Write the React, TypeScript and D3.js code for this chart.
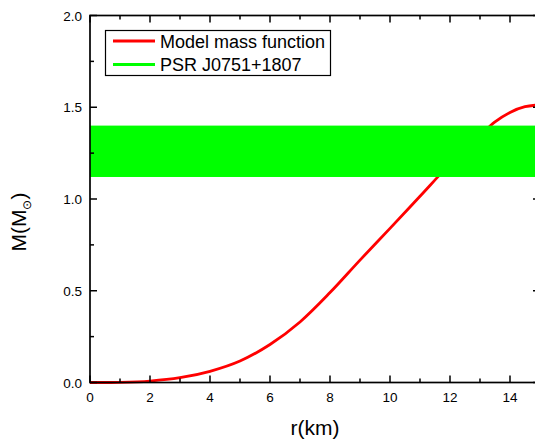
import React from "react";
import * as d3 from "d3";

const radiusKm = [0, 1, 2, 3, 4, 5, 6, 7, 8, 9, 10, 11, 12, 13, 13.5, 14, 14.5, 15];
const massSolar = [0, 0.001, 0.008, 0.026, 0.061, 0.117, 0.207, 0.33, 0.49, 0.667, 0.84, 1.015, 1.19, 1.345, 1.42, 1.472, 1.503, 1.513];
const pulsarBand = [1.12, 1.4];
const xMajorTicks = [0, 2, 4, 6, 8, 10, 12, 14];
const xMinorTicks = [1, 3, 5, 7, 9, 11, 13, 15];
const yMajorTicks = [0, 0.5, 1.0, 1.5, 2.0];
const yMinorTicks = [0.25, 0.75, 1.25, 1.75];
const legendLabels = ["Model mass function", "PSR J0751+1807"];

const W = 535;
const H = 441;
const FONT = "Arial, 'Liberation Sans', sans-serif";

export default function App() {
  const x = d3.scaleLinear().domain([0, 15]).range([90, 540]);
  const y = d3.scaleLinear().domain([0, 2]).range([382.5, 15.5]);
  const line = d3
    .line<number>()
    .x((_, i) => x(radiusKm[i]))
    .y((d) => y(d))
    .curve(d3.curveCatmullRom.alpha(0.5));
  const major = 7;
  const minor = 4;
  const axisColor = "#000";
  return (
    <svg
      width={W}
      height={H}
      style={{ position: "absolute", left: 0, top: 0, background: "#fff" }}
      fontFamily={FONT}
    >
      <path d={line(massSolar) || ""} fill="none" stroke="#ff0000" strokeWidth={2.8} />
      <rect
        x={x(0)}
        width={x(15) - x(0)}
        y={y(pulsarBand[1])}
        height={y(pulsarBand[0]) - y(pulsarBand[1])}
        fill="#00ff00"
      />
      {/* frame */}
      <rect
        x={x(0)}
        y={y(2)}
        width={x(15) - x(0)}
        height={y(0) - y(2)}
        fill="none"
        stroke={axisColor}
        strokeWidth={1.7}
      />
      {/* x ticks */}
      {xMajorTicks.map((t) => (
        <g key={"xM" + t}>
          <line x1={x(t)} x2={x(t)} y1={y(0)} y2={y(0) - major} stroke={axisColor} strokeWidth={1.5} />
          <line x1={x(t)} x2={x(t)} y1={y(2)} y2={y(2) + major} stroke={axisColor} strokeWidth={1.5} />
          <text x={x(t)} y={y(0) + 19} textAnchor="middle" fontSize={13.5} fill="#000">
            {t}
          </text>
        </g>
      ))}
      {xMinorTicks.map((t) => (
        <g key={"xm" + t}>
          <line x1={x(t)} x2={x(t)} y1={y(0)} y2={y(0) - minor} stroke={axisColor} strokeWidth={1.5} />
          <line x1={x(t)} x2={x(t)} y1={y(2)} y2={y(2) + minor} stroke={axisColor} strokeWidth={1.5} />
        </g>
      ))}
      {/* y ticks */}
      {yMajorTicks.map((t) => (
        <g key={"yM" + t}>
          <line x1={x(0)} x2={x(0) + major} y1={y(t)} y2={y(t)} stroke={axisColor} strokeWidth={1.5} />
          <line x1={x(15)} x2={x(15) - major} y1={y(t)} y2={y(t)} stroke={axisColor} strokeWidth={1.5} />
          <text x={x(0) - 8} y={y(t) + 5} textAnchor="end" fontSize={13.5} fill="#000">
            {d3.format(".1f")(t)}
          </text>
        </g>
      ))}
      {yMinorTicks.map((t) => (
        <g key={"ym" + t}>
          <line x1={x(0)} x2={x(0) + minor} y1={y(t)} y2={y(t)} stroke={axisColor} strokeWidth={1.5} />
          <line x1={x(15)} x2={x(15) - minor} y1={y(t)} y2={y(t)} stroke={axisColor} strokeWidth={1.5} />
        </g>
      ))}
      {/* axis titles */}
      <text x={x(7.5)} y={435} textAnchor="middle" fontSize={21} fill="#000">
        r(km)
      </text>
      <text transform="translate(26,222) rotate(-90)" textAnchor="middle" fontSize={21} fill="#000">
        M(M<tspan fontSize={12} dy={5}>⊙</tspan>
        <tspan dy={-5}>)</tspan>
      </text>
      {/* legend */}
      <rect x={105.5} y={30.5} width={225} height={45} fill="#fff" stroke="#000" strokeWidth={1.2} />
      <line x1={113} x2={155} y1={41} y2={41} stroke="#ff0000" strokeWidth={3} />
      <line x1={113} x2={155} y1={64.5} y2={64.5} stroke="#00ff00" strokeWidth={3} />
      <text x={160} y={47.5} fontSize={18} fill="#000">
        {legendLabels[0]}
      </text>
      <text x={160} y={71} fontSize={18} fill="#000">
        {legendLabels[1]}
      </text>
    </svg>
  );
}
